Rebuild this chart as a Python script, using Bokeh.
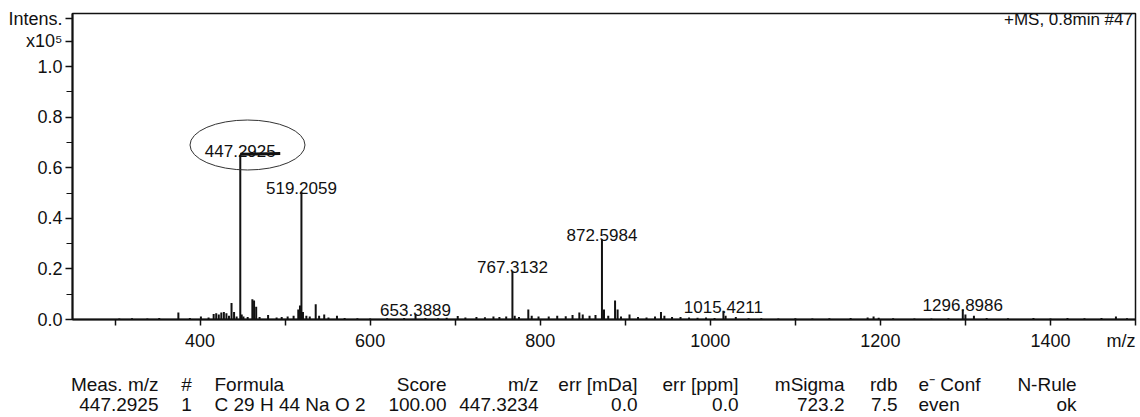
from bokeh.plotting import figure
from bokeh.models import Range1d, FixedTicker, Label, PrintfTickFormatter
from bokeh.layouts import column
from bokeh.embed import file_html
from bokeh.resources import INLINE
from bokeh.core.properties import value

# ---------------- data ----------------
# spectrum sticks: m/z and intensity (x10^5)
mz = [305, 320, 338, 352, 374.5, 388, 401, 410, 416, 419, 422, 425, 428, 431, 434,
      437, 440, 443, 447.2925, 449, 451, 456, 461.5, 463.5, 466, 470, 480, 490, 496,
      503, 510, 515.5, 517.5, 519.2059, 521, 525, 529, 536, 540, 546, 551, 561, 570,
      585, 600, 620, 640, 653.3889, 665, 680, 690, 703, 712, 725, 735, 745, 752, 760,
      767.3132, 770, 775, 786, 790, 798, 810, 820, 830, 838, 846, 850, 858, 865,
      872.5984, 875, 880, 888, 891, 895, 905, 915, 925, 935, 942, 946, 955, 965, 975,
      985, 995, 1005, 1015.4211, 1018, 1030, 1045, 1060, 1080, 1100, 1120, 1140,
      1165, 1185, 1192, 1198, 1215, 1240, 1260, 1280, 1296.8986, 1300, 1310, 1325,
      1350, 1380, 1400, 1420, 1440, 1460, 1477, 1490]
intens = [0.004, 0.005, 0.004, 0.006, 0.028, 0.006, 0.012, 0.008, 0.022, 0.025, 0.02,
          0.028, 0.03, 0.025, 0.015, 0.065, 0.03, 0.012, 0.65, 0.02, 0.012, 0.01, 0.08,
          0.075, 0.05, 0.01, 0.018, 0.008, 0.01, 0.012, 0.015, 0.04, 0.055, 0.505, 0.03,
          0.015, 0.012, 0.06, 0.015, 0.02, 0.008, 0.015, 0.006, 0.005, 0.004, 0.005,
          0.006, 0.022, 0.006, 0.005, 0.007, 0.014, 0.008, 0.01, 0.009, 0.012, 0.01,
          0.012, 0.19, 0.015, 0.01, 0.04, 0.015, 0.012, 0.012, 0.015, 0.013, 0.018,
          0.028, 0.02, 0.015, 0.018, 0.317, 0.04, 0.015, 0.075, 0.04, 0.012, 0.02,
          0.01, 0.008, 0.012, 0.03, 0.015, 0.01, 0.01, 0.008, 0.007, 0.008, 0.006,
          0.035, 0.015, 0.01, 0.005, 0.005, 0.004, 0.005, 0.004, 0.005, 0.006, 0.008,
          0.012, 0.007, 0.005, 0.004, 0.004, 0.005, 0.04, 0.02, 0.015, 0.006, 0.005,
          0.006, 0.004, 0.006, 0.005, 0.006, 0.012, 0.005]

# labelled peaks
label_mz = [447.2925, 519.2059, 653.3889, 767.3132, 872.5984, 1015.4211, 1296.8986]
label_int = [0.65, 0.505, 0.022, 0.19, 0.317, 0.035, 0.04]
label_text = ["447.2925", "519.2059", "653.3889", "767.3132", "872.5984",
              "1015.4211", "1296.8986"]

# axes (the x-axis title "m/z" sits in the tick-label row at the right end)
x_tick_labels = {400: "400", 600: "600", 800: "800", 1000: "1000", 1200: "1200",
                 1400: "1400", 1483: "m/z"}
x_tick_marks = [300, 400, 500, 600, 700, 800, 900, 1000, 1100, 1200, 1300, 1400, 1500]
y_ticks = [0.0, 0.2, 0.4, 0.6, 0.8, 1.0, 1.1, 1.19]
y_minor = [0.1, 0.3, 0.5, 0.7, 0.9]
y_tick_labels = {1.1: "x10⁵", 1.19: "Intens."}

# formula table
table_headers = ["Meas. m/z", "#", "Formula", "Score", "m/z", "err [mDa]",
                 "err [ppm]", "mSigma", "rdb", "e⁻ Conf", "N-Rule"]
table_values = ["447.2925", "1", "C 29 H 44 Na O 2", "100.00", "447.3234", "0.0",
                "0.0", "723.2", "7.5", "even", "ok"]

# ---------------- layout / style ----------------
FONT = "Liberation Sans"
INK = "#111111"
W = 1138

p = figure(width=W, height=354, x_range=Range1d(250, 1500), y_range=Range1d(0, 1.21),
           output_backend="svg", toolbar_location=None,
           min_border_left=72, min_border_right=3, min_border_top=13,
           min_border_bottom=35)
p.frame_align = False
p.xgrid.visible = False
p.ygrid.visible = False
p.outline_line_color = INK
p.outline_line_width = 1.5
p.background_fill_color = "white"
p.border_fill_color = "white"

# spectrum sticks
p.segment(x0=mz, y0=[0] * len(mz), x1=mz, y1=intens, line_color=INK, line_width=2)

# peak labels
p.text(x=label_mz, y=label_int, text=label_text, text_align="center",
       text_baseline="alphabetic", y_offset=-4, text_font=value(FONT),
       text_font_size="17px", text_color=INK)

# hand-drawn mark around the base peak label
p.ellipse(x=[label_mz[0] + 8.5], y=[label_int[0] + 0.04], width=115, height=50,
          width_units="screen", height_units="screen", fill_alpha=0,
          line_color="#333333", line_width=1)
p.segment(x0=[label_mz[0]], y0=[label_int[0] + 0.003], x1=[label_mz[0] + 47],
          y1=[label_int[0] + 0.006], line_color=INK, line_width=3)

# axes
for ax in (p.xaxis[0], p.yaxis[0]):
    ax.axis_line_color = INK
    ax.major_tick_line_color = INK
    ax.minor_tick_line_color = INK
    ax.major_label_text_font = FONT
    ax.major_label_text_font_size = "18px"
    ax.major_label_text_color = INK
    ax.major_tick_in = 0
    ax.minor_tick_in = 0

# x: labels from the major ticks (no marks), marks from the minor ticks
p.xaxis.ticker = FixedTicker(ticks=list(x_tick_labels.keys()), minor_ticks=x_tick_marks)
p.xaxis.major_label_overrides = x_tick_labels
p.xaxis.axis_line_width = 2
p.xaxis.major_tick_line_color = None
p.xaxis.major_tick_out = 6
p.xaxis.minor_tick_out = 6
p.xaxis.minor_tick_line_width = 1.5
p.xaxis.major_label_standoff = 5

p.yaxis.ticker = FixedTicker(ticks=y_ticks, minor_ticks=y_minor)
p.yaxis.formatter = PrintfTickFormatter(format="%.1f")
p.yaxis.major_label_overrides = y_tick_labels
p.yaxis.axis_line_width = 2
p.yaxis.major_tick_line_width = 1.5
p.yaxis.major_tick_out = 7
p.yaxis.minor_tick_out = 6
p.yaxis.major_label_standoff = 3

p.add_layout(Label(x=1497, y=1.186, text="+MS, 0.8min #47", text_align="right",
                   text_baseline="middle", text_font=FONT, text_font_size="17px",
                   text_color=INK))

# ---------------- table ----------------
TH = 62
t = figure(width=W, height=TH, x_range=Range1d(0, W), y_range=Range1d(TH, 0),
           x_axis_type=None, y_axis_type=None,
           output_backend="svg", toolbar_location=None, min_border=0)
t.frame_align = False
t.xgrid.visible = False
t.ygrid.visible = False
t.outline_line_color = None

col_x = [158, 186, 214, 446, 538, 637, 738, 844, 897, 918, 1076]
col_align = ["right", "center", "left", "right", "right", "right", "right", "right",
             "right", "left", "right"]
row_y = [30, 50]

for align in ("left", "right", "center"):
    idx = [i for i, a in enumerate(col_align) if a == align]
    xs = [col_x[i] for i in idx]
    t.text(x=xs, y=[row_y[0]] * len(xs), text=[table_headers[i] for i in idx],
           text_align=align, text_baseline="middle", text_font=value(FONT),
           text_font_size="19px", text_color=INK)
    t.text(x=xs, y=[row_y[1]] * len(xs), text=[table_values[i] for i in idx],
           text_align=align, text_baseline="middle", text_font=value(FONT),
           text_font_size="19px", text_color=INK)

layout = column(p, t, spacing=0)
open("out.html", "w").write(file_html(layout, INLINE))
